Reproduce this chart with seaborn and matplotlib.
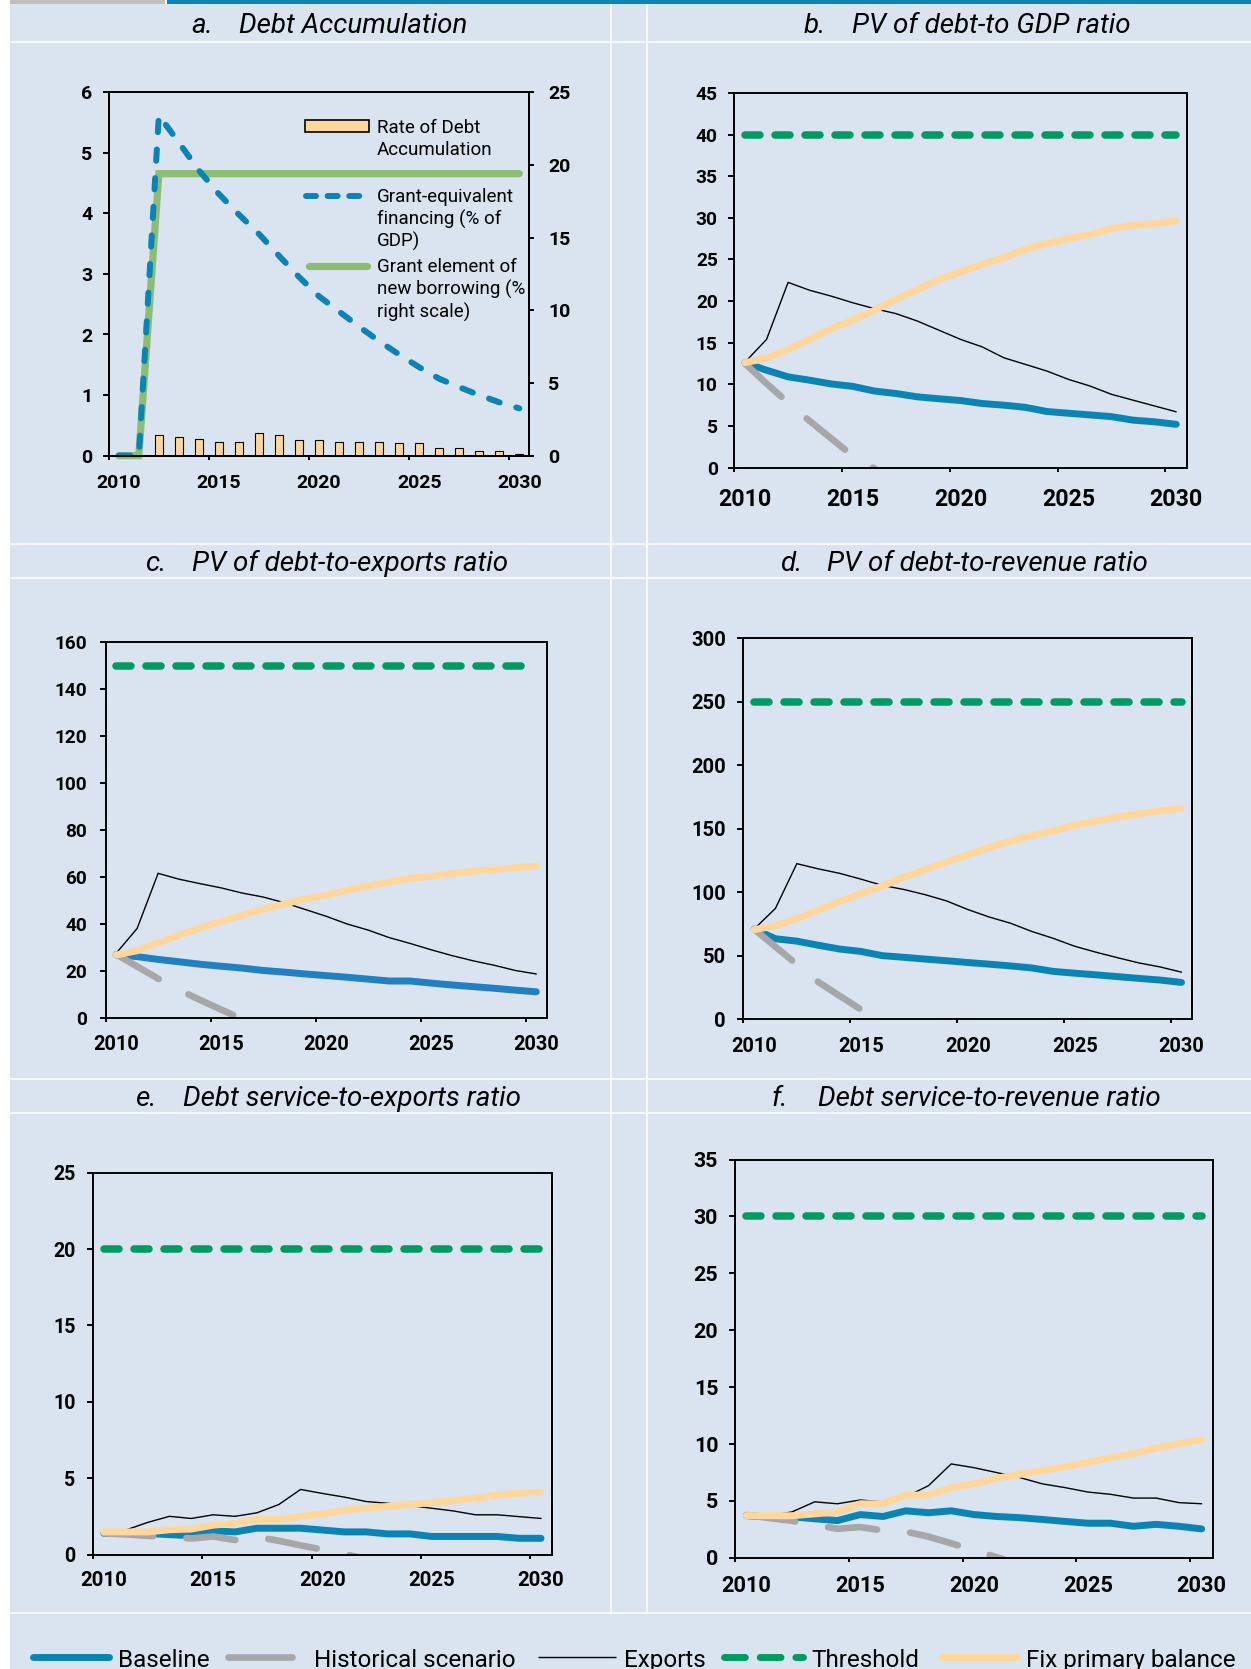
import numpy as np
import pandas as pd
import matplotlib
matplotlib.use("Agg")
import matplotlib.pyplot as plt
from matplotlib.lines import Line2D
from matplotlib.patches import Rectangle
import seaborn as sns

# ------------------------------------------------------------------ data
years = list(range(2010, 2031))
year_labels = ["2010", "2015", "2020", "2025", "2030"]

# a. Debt accumulation
debt_accumulation = [0, 0, 0.34, 0.31, 0.28, 0.23, 0.23, 0.38, 0.34, 0.26, 0.26,
                     0.23, 0.23, 0.23, 0.20, 0.20, 0.13, 0.13, 0.07, 0.07, 0.03]
grant_equivalent_financing = [0, 0, 5.62, 5.17, 4.71, 4.32, 3.98, 3.66, 3.30, 2.95, 2.63,
                              2.38, 2.13, 1.89, 1.67, 1.46, 1.27, 1.13, 1.00, 0.88, 0.78]
grant_element_new_borrowing = [0, 0, 19.4, 19.4, 19.4, 19.4, 19.4, 19.4, 19.4, 19.4, 19.4,
                               19.4, 19.4, 19.4, 19.4, 19.4, 19.4, 19.4, 19.4, 19.4, 19.4]

# b. PV of debt-to GDP ratio
gdp_baseline = [12.6, 11.7, 10.9, 10.5, 10.05, 9.76, 9.2, 8.9, 8.5, 8.27, 8.06,
                7.7, 7.5, 7.24, 6.74, 6.53, 6.33, 6.12, 5.7, 5.5, 5.2]
gdp_historical = [12.5, 10.1, 7.8, 5.6, 3.5, 1.4, -0.1, -2.0, None, None, None,
                  None, None, None, None, None, None, None, None, None, None]
gdp_exports = [12.66, 15.4, 22.25, 21.3, 20.6, 19.8, 19.1, 18.5, 17.6, 16.5, 15.4,
               14.5, 13.2, 12.4, 11.6, 10.6, 9.8, 8.8, 8.1, 7.4, 6.7]
gdp_fix_primary = [12.6, 13.15, 14.2, 15.4, 16.7, 17.7, 18.9, 20.2, 21.4, 22.6, 23.5,
                   24.4, 25.2, 26.2, 26.9, 27.5, 28.0, 28.7, 29.1, 29.3, 29.65]
gdp_threshold = 40

# c. PV of debt-to-exports ratio
exp_baseline = [26.7, 26.0, 24.8, 23.8, 22.75, 21.9, 21.1, 20.1, 19.4, 18.6, 17.9,
                17.2, 16.4, 15.6, 15.6, 14.7, 13.9, 13.2, 12.5, 11.7, 11.0]
exp_historical = [27.0, 21.8, 16.6, 11.8, 7.5, 3.4, -0.6, -4.5, None, None, None,
                  None, None, None, None, None, None, None, None, None, None]
exp_exports = [27.4, 38.0, 61.5, 59.0, 57.1, 55.3, 53.1, 51.4, 49.0, 46.1, 43.2,
               39.9, 37.3, 34.1, 31.6, 28.9, 26.4, 24.2, 22.3, 20.1, 18.6]
exp_fix_primary = [26.7, 28.5, 31.9, 35.1, 38.2, 41.0, 43.6, 46.1, 48.4, 50.6, 52.1,
                   54.3, 56.1, 57.8, 59.3, 60.2, 61.5, 62.4, 63.1, 63.9, 64.6]
exp_threshold = 150

# d. PV of debt-to-revenue ratio
rev_baseline = [71.0, 63.4, 61.5, 58.3, 55.3, 53.4, 50.1, 48.8, 47.4, 46.1, 44.7,
                43.4, 42.0, 40.4, 37.7, 36.3, 35.0, 33.6, 32.2, 30.9, 29.0]
rev_historical = [71.0, 57.1, 43.2, 29.4, 18.5, 7.7, -3.0, -14.0, None, None, None,
                  None, None, None, None, None, None, None, None, None, None]
rev_exports = [71.0, 87.3, 122.5, 118.4, 114.9, 110.3, 105.4, 102.2, 98.1, 93.2, 86.4,
               80.5, 75.6, 69.1, 63.7, 57.5, 52.8, 48.5, 44.4, 41.2, 37.1]
rev_fix_primary = [70.5, 73.7, 79.1, 85.9, 92.7, 98.9, 104.9, 111.7, 117.6, 123.8, 129.3,
                   135.2, 140.1, 144.7, 148.2, 152.8, 155.8, 159.1, 161.8, 164.0, 165.9]
rev_threshold = 250

# e. Debt service-to-exports ratio
dse_baseline = [1.38, 1.38, 1.38, 1.30, 1.23, 1.55, 1.48, 1.72, 1.72, 1.72, 1.60,
                1.48, 1.48, 1.35, 1.35, 1.18, 1.18, 1.18, 1.18, 1.06, 1.06]
dse_historical = [1.38, 1.32, 1.22, 1.15, 1.05, 1.18, 0.95, 1.15, 0.90, 0.60, 0.32,
                  0.03, -0.30, -0.60, None, None, None, None, None, None, None]
dse_exports = [1.55, 1.60, 2.10, 2.50, 2.36, 2.60, 2.50, 2.73, 3.27, 4.26, 4.00,
               3.76, 3.47, 3.35, 3.20, 3.03, 2.85, 2.60, 2.60, 2.48, 2.36]
dse_fix_primary = [1.48, 1.48, 1.48, 1.62, 1.67, 1.92, 2.04, 2.29, 2.29, 2.49, 2.66,
                   2.90, 3.03, 3.15, 3.27, 3.40, 3.52, 3.69, 3.89, 4.01, 4.08]
dse_threshold = 20

# f. Debt service-to-revenue ratio
dsr_baseline = [3.70, 3.60, 3.60, 3.43, 3.27, 3.80, 3.63, 4.13, 3.96, 4.13, 3.80,
                3.63, 3.53, 3.37, 3.20, 3.04, 3.04, 2.77, 2.94, 2.77, 2.54]
dsr_historical = [3.76, 3.50, 3.25, 2.90, 2.55, 2.70, 2.40, 2.30, 1.86, 1.27, 0.68,
                  0.05, -0.60, -1.20, None, None, None, None, None, None, None]
dsr_exports = [3.70, 3.70, 4.03, 4.92, 4.75, 5.08, 4.92, 5.35, 6.34, 8.25, 7.92,
               7.49, 7.06, 6.50, 6.17, 5.78, 5.58, 5.25, 5.25, 4.85, 4.75]
dsr_fix_primary = [3.70, 3.70, 3.70, 3.86, 4.03, 4.75, 4.75, 5.51, 5.51, 6.17, 6.50,
                   7.00, 7.33, 7.66, 7.99, 8.39, 8.81, 9.14, 9.64, 10.04, 10.37]
dsr_threshold = 30

series_names = ["Baseline", "Historical scenario", "Exports", "Threshold", "Fix primary balance"]

# ------------------------------------------------------------------ style
BG = "#D9E4F0"
BLUE = "#0A84B4"
BLUE_C = "#2080C2"
GREY = "#A7A7AA"
GREEN_T = "#009A62"
GREEN_A = "#8BBE74"
ORANGE = "#FFD79C"
TOP_GREY = "#BFBFBF"
TOP_BLUE = "#0A85B5"

sns.set_style("ticks")
plt.rcParams["font.family"] = ["Roboto", "DejaVu Sans"]
plt.rcParams["axes.unicode_minus"] = False

W, H = 1251, 1669
fig = plt.figure(figsize=(W / 100, H / 100), dpi=100, facecolor=BG)

# category centres (Excel-style category axis)
pos = np.arange(len(years)) + 0.5
label_pos = [years.index(int(y)) + 0.5 for y in year_labels]

# ------------------------------------------------------------------ page frame
back = fig.add_axes([0, 0, 1, 1])
back.set_xlim(0, W)
back.set_ylim(H, 0)
back.axis("off")
back.add_patch(Rectangle((0, 0), W, 3.6, color="white", lw=0))
back.add_patch(Rectangle((0, 0), 9.6, H, color="white", lw=0))
back.add_patch(Rectangle((9.6, 0), 155.8, 3.6, color=TOP_GREY, lw=0))
back.add_patch(Rectangle((167.4, 0), W - 167.4, 3.6, color=TOP_BLUE, lw=0))
for yy in [42, 544, 578, 1079, 1113, 1613]:
    back.plot([9.6, W], [yy, yy], color="white", lw=1.1, solid_capstyle="butt")
for xx in [611, 647]:
    back.plot([xx, xx], [3.6, 1613], color="white", lw=1.1, solid_capstyle="butt")


def add_panel(left, right, top, bottom):
    return fig.add_axes([left / W, 1 - bottom / H, (right - left) / W, (bottom - top) / H])


def style_panel(ax, ymax, ystep, xsize, ysize, xpad, ypad):
    ax.set_facecolor("none")
    ax.set_xlim(0, len(years))
    ax.set_ylim(0, ymax)
    yt = np.arange(0, ymax + ystep * 0.5, ystep)
    ax.set_yticks(yt)
    ax.set_yticklabels([f"{v:g}" for v in yt], fontsize=ysize, fontweight="bold")
    ax.set_xticks([0, 5, 10, 15, 20])
    ax.set_xticklabels([])
    ax.set_xticks(label_pos, minor=True)
    ax.set_xticklabels(year_labels, minor=True, fontsize=xsize, fontweight="bold")
    ax.tick_params(axis="x", which="major", direction="out", length=3.0, width=1.4, color="black")
    ax.tick_params(axis="x", which="minor", length=0, pad=xpad, labelcolor="black")
    ax.tick_params(axis="y", which="major", direction="out", length=4.3, width=1.4,
                   pad=ypad, left=True, right=False, color="black", labelcolor="black")
    ax.tick_params(axis="y", which="minor", left=False, right=False)
    for s in ax.spines.values():
        s.set_visible(True)
        s.set_linewidth(1.4)
        s.set_color("black")
    ax.set_xlabel("")
    ax.set_ylabel("")
    ax.grid(False)


def draw_scenarios(ax, baseline, historical, exports, threshold, fix_primary, base_color):
    df = pd.DataFrame({
        "pos": pos,
        "Baseline": baseline,
        "Historical scenario": pd.to_numeric(pd.Series(historical), errors="coerce"),
        "Exports": exports,
        "Threshold": [threshold] * len(years),
        "Fix primary balance": fix_primary,
    })
    styles = {
        "Baseline": dict(color=base_color, lw=5.0, ls="-"),
        "Historical scenario": dict(color=GREY, lw=4.8, ls=(0, (7.4, 5.0))),
        "Exports": dict(color="black", lw=1.0, ls="-"),
        "Threshold": dict(color=GREEN_T, lw=5.4, ls=(0, (2.0, 2.0))),
        "Fix primary balance": dict(color=ORANGE, lw=5.0, ls="-"),
    }
    for name in series_names:
        st = styles[name]
        sub = df[["pos", name]].dropna()
        sns.lineplot(data=sub, x="pos", y=name, ax=ax, color=st["color"],
                     linewidth=st["lw"], errorbar=None, sort=False)
        line = ax.get_lines()[-1]
        line.set_linestyle(st["ls"])
        if name == "Exports":
            line.set_solid_joinstyle("miter")
        else:
            line.set_solid_capstyle("round")
            line.set_dash_capstyle("round")
            line.set_solid_joinstyle("round")
            line.set_dash_joinstyle("round")


# ------------------------------------------------------------------ panel a
ax_a = add_panel(108.8, 529.3, 92.3, 455.6)
ax_a2 = ax_a.twinx()
ax_a.set_zorder(ax_a2.get_zorder() + 1)
ax_a.patch.set_visible(False)

acc_df = pd.DataFrame({"pos": pos, "rate": debt_accumulation})
sns.barplot(data=acc_df, x="pos", y="rate", ax=ax_a, native_scale=True, width=0.4,
            color=ORANGE, saturation=1, edgecolor="black", linewidth=0.8, errorbar=None)
sns.lineplot(x=pos, y=grant_equivalent_financing, ax=ax_a, color=BLUE, linewidth=4.3,
             errorbar=None, sort=False)
gl = ax_a.get_lines()[-1]
gl.set_linestyle((0, (1.9, 2.9)))
gl.set_dash_capstyle("round")
gl.set_dash_joinstyle("round")

sns.lineplot(x=pos, y=grant_element_new_borrowing, ax=ax_a2, color=GREEN_A, linewidth=5.2,
             errorbar=None, sort=False)
ge = ax_a2.get_lines()[-1]
ge.set_solid_capstyle("round")
ge.set_solid_joinstyle("miter")
ge.set_clip_on(False)

style_panel(ax_a, 6, 1, 14, 14, 13, 7.4)
ax_a2.set_ylim(0, 25)
ax_a2.set_yticks(np.arange(0, 26, 5))
ax_a2.set_yticklabels([str(v) for v in range(0, 26, 5)], fontsize=14, fontweight="bold")
ax_a2.tick_params(axis="y", direction="out", length=3.6, width=1.4, pad=9.9,
                  right=True, left=False, color="black", labelcolor="black")
ax_a2.set_ylabel("")
for s in ax_a2.spines.values():
    s.set_linewidth(1.4)
    s.set_color("black")

# ------------------------------------------------------------------ panels b-f
ax_b = add_panel(734.2, 1187, 93, 467.6)
draw_scenarios(ax_b, gdp_baseline, gdp_historical, gdp_exports, gdp_threshold, gdp_fix_primary, BLUE)
style_panel(ax_b, 45, 5, 16.7, 13.8, 14.7, 7.5)

ax_c = add_panel(105.6, 546.8, 642.3, 1017.6)
draw_scenarios(ax_c, exp_baseline, exp_historical, exp_exports, exp_threshold, exp_fix_primary, BLUE_C)
style_panel(ax_c, 160, 20, 14.4, 13.7, 12.5, 9.1)

ax_d = add_panel(743.4, 1192.2, 638.1, 1019.3)
draw_scenarios(ax_d, rev_baseline, rev_historical, rev_exports, rev_threshold, rev_fix_primary, BLUE)
style_panel(ax_d, 300, 50, 14.4, 14.5, 12.5, 8.2)

ax_e = add_panel(92.9, 552, 1172.8, 1554.5)
draw_scenarios(ax_e, dse_baseline, dse_historical, dse_exports, dse_threshold, dse_fix_primary, BLUE)
style_panel(ax_e, 25, 5, 14.7, 14.1, 11.9, 8.1)

ax_f = add_panel(735, 1213, 1159.6, 1557.8)
draw_scenarios(ax_f, dsr_baseline, dsr_historical, dsr_exports, dsr_threshold, dsr_fix_primary, BLUE)
style_panel(ax_f, 35, 5, 15.7, 15.4, 12.3, 7.8)

# ------------------------------------------------------------------ titles, legends
front = fig.add_axes([0, 0, 1, 1], zorder=10)
front.set_xlim(0, W)
front.set_ylim(H, 0)
front.axis("off")

titles = [
    ("a.", "Debt Accumulation", 191, 239, 32.7),
    ("b.", "PV of debt-to GDP ratio", 804, 852, 32.7),
    ("c.", "PV of debt-to-exports ratio", 145, 192.5, 570.5),
    ("d.", "PV of debt-to-revenue ratio", 780, 827, 570.5),
    ("e.", "Debt service-to-exports ratio", 135.5, 183, 1105.5),
    ("f.", "Debt service-to-revenue ratio", 771, 818, 1105.5),
]
for letter, text, xl, xt, yb in titles:
    front.text(xl, yb, letter, fontsize=20, style="italic", fontweight="normal",
               ha="left", va="baseline", color="black")
    front.text(xt, yb, text, fontsize=20, style="italic", fontweight="normal",
               ha="left", va="baseline", color="black")

# legend of panel a
front.add_patch(Rectangle((305, 120.5), 64, 11.5, facecolor=ORANGE, edgecolor="black", lw=1.2))
front.add_line(Line2D([306, 367], [195.7, 195.7], color=BLUE, lw=4.3,
                      linestyle=(0, (1.67, 1.95)), dash_capstyle="round"))
front.add_line(Line2D([308.6, 367.4], [266, 266], color=GREEN_A, lw=5.2, solid_capstyle="round"))
a_legend = [(["Rate of Debt", "Accumulation"], 132.6),
            (["Grant-equivalent", "financing (% of", "GDP)"], 202.0),
            (["Grant element of", "new borrowing (%", "right scale)"], 272.5)]
for lines, yb in a_legend:
    for k, txt in enumerate(lines):
        front.text(376.6, yb + 22.5 * k, txt, fontsize=13.5, ha="left", va="baseline",
                   color="black")

# common legend row
yl = 1657
front.add_line(Line2D([33, 108.5], [yl, yl], color=BLUE, lw=5.0, solid_capstyle="round"))
front.add_line(Line2D([227.5, 291.5], [yl, yl], color=GREY, lw=4.8, solid_capstyle="round"))
front.add_line(Line2D([538, 616], [yl, yl], color="black", lw=1.0, solid_capstyle="butt"))
front.add_line(Line2D([723.5, 802.5], [yl, yl], color=GREEN_T, lw=5.0,
                      linestyle=(0, (3.0, 2.14)), dash_capstyle="round"))
front.add_line(Line2D([941.5, 1016.5], [yl, yl], color=ORANGE, lw=5.0, solid_capstyle="round"))
for name, xt in zip(series_names, [118, 314, 624, 811, 1026]):
    front.text(xt, 1666.7, name, fontsize=17.5, ha="left", va="baseline", color="black")

fig.savefig("out.png", dpi=100, facecolor=fig.get_facecolor())
